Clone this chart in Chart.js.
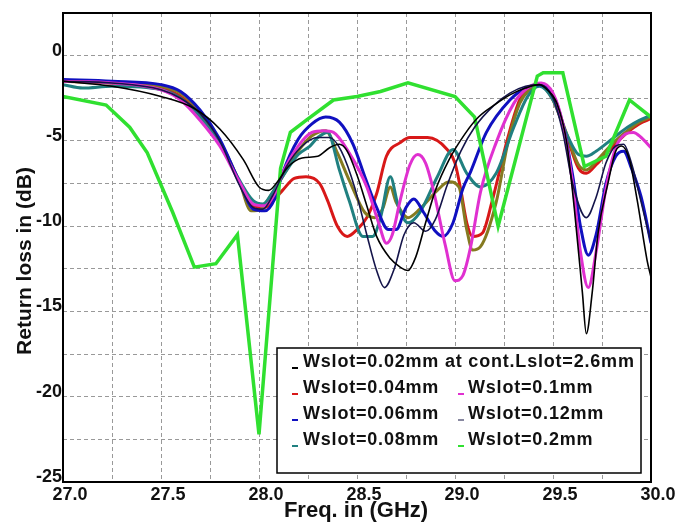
<!DOCTYPE html>
<html lang="en">
<head>
    <meta charset="UTF-8">
    <title>Return loss vs Wslot</title>
    <script src="https://cdn.jsdelivr.net/npm/chart.js"></script>
    <style>
        body { margin: 0; background: #fff; }
    </style>
</head>
<body>
    <canvas id="rlChart" width="678" height="524"></canvas>

    <script>
        // Frequencies (GHz) and return loss (dB), one pair per curve
        const freqW002 = [27.0, 27.25, 27.5, 27.67, 27.8, 27.92, 28.0, 28.05, 28.1, 28.15, 28.22, 28.3, 28.36, 28.41, 28.45, 28.5, 28.55, 28.6, 28.67, 28.72, 28.76, 28.8, 28.85, 28.9, 28.97, 29.05, 29.12, 29.2, 29.28, 29.36, 29.43, 29.47, 29.52, 29.57, 29.61, 29.65, 29.67, 29.7, 29.73, 29.78, 29.82, 29.85, 29.89, 29.93, 29.98, 30.0];
        const rlW002   = [-1.5, -1.8, -2.4, -3.1, -4.3, -6.1, -7.7, -7.9, -7.3, -6.5, -6.0, -5.9, -5.4, -5.2, -5.6, -7.0, -8.8, -10.6, -11.9, -12.4, -12.6, -11.8, -9.8, -7.9, -6.1, -4.6, -3.6, -2.9, -2.3, -1.9, -1.7, -2.0, -2.8, -5.1, -9.1, -13.9, -16.3, -13.9, -10.4, -7.5, -5.6, -5.3, -6.1, -8.5, -12.0, -13.0];

        const freqNavy = [27.0, 27.25, 27.5, 27.6, 27.7, 27.8, 27.9, 27.97, 28.02, 28.07, 28.14, 28.22, 28.3, 28.36, 28.42, 28.49, 28.55, 28.6, 28.64, 28.69, 28.74, 28.79, 28.85, 28.9, 28.96, 29.03, 29.1, 29.2, 29.28, 29.36, 29.43, 29.5, 29.55, 29.6, 29.67, 29.72, 29.77, 29.82, 29.86, 29.9, 29.95, 30.0];
        const rlNavy   = [-1.5, -1.6, -2.0, -2.5, -3.4, -5.0, -7.6, -8.9, -9.0, -8.2, -6.5, -5.3, -4.8, -4.8, -5.6, -7.8, -10.5, -12.6, -13.6, -12.5, -10.5, -9.8, -10.3, -9.6, -7.6, -5.6, -4.2, -2.9, -2.2, -1.8, -1.7, -2.5, -4.5, -7.5, -9.5, -8.3, -6.3, -5.3, -5.2, -6.3, -8.6, -11.0];

        const freqW006 = [27.0, 27.25, 27.5, 27.6, 27.7, 27.8, 27.9, 27.97, 28.03, 28.08, 28.12, 28.2, 28.27, 28.34, 28.41, 28.48, 28.54, 28.6, 28.66, 28.7, 28.75, 28.79, 28.84, 28.9, 28.94, 28.99, 29.04, 29.08, 29.16, 29.28, 29.36, 29.43, 29.5, 29.55, 29.6, 29.64, 29.68, 29.72, 29.77, 29.82, 29.86, 29.9, 29.95, 30.0];
        const rlW006   = [-1.4, -1.5, -1.7, -2.1, -3.2, -4.9, -7.4, -9.0, -9.1, -8.4, -6.9, -4.9, -4.0, -3.6, -3.9, -5.2, -7.1, -8.9, -10.2, -10.2, -8.9, -8.4, -9.2, -10.3, -10.6, -9.8, -7.8, -6.8, -4.5, -2.6, -1.9, -1.7, -2.3, -4.0, -7.0, -10.0, -11.7, -10.5, -7.5, -5.9, -5.6, -6.6, -8.3, -11.0];

        const freqW004 = [27.0, 27.25, 27.5, 27.6, 27.7, 27.8, 27.9, 27.97, 28.03, 28.08, 28.12, 28.18, 28.24, 28.31, 28.35, 28.4, 28.45, 28.5, 28.55, 28.6, 28.65, 28.72, 28.77, 28.86, 28.96, 29.0, 29.03, 29.06, 29.09, 29.14, 29.19, 29.27, 29.33, 29.38, 29.43, 29.5, 29.57, 29.63, 29.67, 29.72, 29.8, 29.88, 29.94, 30.0];
        const rlW004   = [-1.5, -1.6, -1.9, -2.4, -3.5, -5.1, -7.4, -8.8, -8.9, -8.4, -7.9, -7.2, -7.1, -7.5, -8.5, -10.0, -10.6, -10.2, -9.5, -8.1, -5.9, -5.1, -4.8, -4.8, -5.5, -6.3, -7.9, -9.8, -10.6, -10.4, -8.5, -4.8, -2.6, -1.9, -1.7, -2.6, -4.7, -6.6, -6.9, -6.4, -5.4, -4.5, -4.0, -3.7];

        const freqW01 = [27.0, 27.25, 27.5, 27.6, 27.7, 27.8, 27.9, 27.97, 28.03, 28.08, 28.12, 28.2, 28.27, 28.33, 28.38, 28.46, 28.55, 28.61, 28.65, 28.68, 28.72, 28.77, 28.81, 28.85, 28.89, 28.95, 29.0, 29.04, 29.08, 29.13, 29.21, 29.3, 29.37, 29.44, 29.5, 29.55, 29.6, 29.64, 29.68, 29.72, 29.77, 29.82, 29.87, 29.91, 29.95, 30.0];
        const rlW01   = [-1.5, -1.6, -2.0, -2.6, -3.8, -5.3, -7.4, -8.7, -8.8, -8.1, -6.9, -5.3, -4.5, -4.4, -4.5, -5.7, -7.7, -9.8, -11.0, -10.5, -8.5, -6.4, -5.8, -6.3, -7.9, -11.1, -13.2, -12.9, -11.2, -8.0, -5.1, -2.8, -1.9, -1.6, -2.2, -4.0, -7.5, -11.5, -13.6, -11.5, -7.8, -5.4, -4.6, -4.5, -4.8, -5.4];

        const freqW008 = [27.0, 27.1, 27.25, 27.5, 27.6, 27.7, 27.8, 27.9, 27.97, 28.02, 28.07, 28.12, 28.2, 28.26, 28.3, 28.35, 28.41, 28.46, 28.53, 28.58, 28.62, 28.67, 28.71, 28.76, 28.82, 28.91, 28.99, 29.06, 29.13, 29.21, 29.3, 29.37, 29.43, 29.5, 29.57, 29.63, 29.67, 29.72, 29.8, 29.88, 29.94, 30.0];
        const rlW008   = [-1.7, -1.9, -1.8, -2.0, -2.5, -3.6, -5.2, -7.3, -8.5, -8.7, -8.0, -7.1, -5.8, -5.3, -4.8, -4.5, -6.7, -8.5, -10.6, -10.6, -9.5, -7.1, -8.8, -9.8, -9.2, -7.1, -5.5, -6.9, -7.7, -6.9, -4.2, -2.4, -1.8, -2.6, -4.6, -5.8, -5.9, -5.6, -4.9, -4.2, -3.8, -3.5];

        const freqOlive = [27.0, 27.25, 27.5, 27.6, 27.7, 27.8, 27.9, 27.96, 28.01, 28.06, 28.12, 28.2, 28.27, 28.34, 28.4, 28.46, 28.54, 28.59, 28.63, 28.67, 28.7, 28.76, 28.82, 28.91, 28.97, 29.02, 29.06, 29.09, 29.13, 29.21, 29.27, 29.33, 29.38, 29.43, 29.5, 29.57, 29.63, 29.67, 29.72, 29.8, 29.88, 29.94, 30.0];
        const rlOlive   = [-1.5, -1.6, -1.8, -2.2, -3.3, -5.0, -7.4, -9.1, -9.0, -8.2, -7.1, -5.6, -4.7, -4.4, -5.7, -7.3, -9.2, -9.5, -9.0, -7.7, -8.6, -9.5, -9.0, -7.9, -7.4, -7.7, -10.2, -11.4, -11.2, -8.6, -5.1, -2.8, -2.0, -1.7, -2.5, -4.6, -6.4, -6.7, -6.2, -5.2, -4.4, -3.9, -3.6];

        const freqW02 = [27.0, 27.22, 27.34, 27.43, 27.56, 27.67, 27.78, 27.89, 28.0, 28.11, 28.16, 28.24, 28.38, 28.5, 28.62, 28.76, 29.0, 29.1, 29.22, 29.42, 29.45, 29.55, 29.66, 29.77, 29.89, 30.0];
        const rlW02   = [-2.4, -2.9, -4.2, -5.7, -9.2, -12.4, -12.2, -10.5, -22.2, -6.6, -4.5, -3.8, -2.6, -2.4, -2.1, -1.6, -2.4, -3.6, -10.0, -1.2, -1.0, -1.0, -6.5, -5.9, -2.6, -3.6];

        // Tick values and legend text
        const xTickStep = 0.25;
        const yTickStep = 2.5;
        const legendRows = [
            ['Wslot=0.02mm at cont.Lslot=2.6mm', '#000000', null, null],
            ['Wslot=0.04mm', '#d81818', 'Wslot=0.1mm', '#e030d0'],
            ['Wslot=0.06mm', '#1010c0', 'Wslot=0.12mm', '#8888a0'],
            ['Wslot=0.08mm', '#208080', 'Wslot=0.2mm', '#30e030']
        ];

        const FONT = 'Arial, "Liberation Sans", sans-serif';

        function pts(f, r) {
            return f.map((x, i) => ({ x: x, y: r[i] }));
        }

        function line(label, f, r, color, width, straight) {
            return {
                label: label,
                data: pts(f, r),
                borderColor: color,
                borderWidth: width,
                pointRadius: 0,
                fill: false,
                tension: straight ? 0 : 0.4,
                cubicInterpolationMode: straight ? 'default' : 'monotone'
            };
        }

        // Frame, axis titles and the boxed legend
        const decor = {
            id: 'decor',
            afterDraw(chart) {
                const ctx = chart.ctx;
                const a = chart.chartArea;
                ctx.save();
                ctx.strokeStyle = '#000';
                ctx.lineWidth = 2;
                ctx.strokeRect(a.left, a.top, a.right - a.left, a.bottom - a.top);

                ctx.fillStyle = '#111';
                ctx.font = 'bold 22px ' + FONT;
                ctx.textAlign = 'center';
                ctx.textBaseline = 'middle';
                ctx.fillText('Freq. in (GHz)', 356, 511);

                ctx.save();
                ctx.translate(25, 261);
                ctx.rotate(-Math.PI / 2);
                ctx.font = 'bold 21px ' + FONT;
                ctx.fillText('Return loss in (dB)', 0, 0);
                ctx.restore();

                // legend box
                ctx.fillStyle = '#fff';
                ctx.fillRect(277, 348, 364, 125);
                ctx.lineWidth = 1.5;
                ctx.strokeRect(277, 348, 364, 125);
                ctx.font = 'bold 18px ' + FONT;
                ctx.letterSpacing = '0.8px';
                ctx.textAlign = 'left';
                ctx.textBaseline = 'middle';
                legendRows.forEach((row, i) => {
                    const y = 362 + i * 26;
                    ctx.fillStyle = row[1];
                    ctx.fillRect(292, y + 5, 6, 2);
                    ctx.fillStyle = '#111';
                    ctx.fillText(row[0], 303, y);
                    if (row[2]) {
                        ctx.fillStyle = row[3];
                        ctx.fillRect(458, y + 5, 6, 2);
                        ctx.fillStyle = '#111';
                        ctx.fillText(row[2], 468, y);
                    }
                });
                ctx.restore();
            }
        };

        const ctx = document.getElementById('rlChart').getContext('2d');
        new Chart(ctx, {
            type: 'line',
            data: {
                datasets: [
                    line('Wslot=0.02mm', freqW002, rlW002, '#000000', 1.6),
                    line('navy', freqNavy, rlNavy, '#14144a', 1.6),
                    line('Wslot=0.2mm', freqW02, rlW02, '#30e030', 3.5, true),
                    line('Wslot=0.1mm', freqW01, rlW01, '#e030d0', 3),
                    line('Wslot=0.06mm', freqW006, rlW006, '#1010c0', 3),
                    line('Wslot=0.08mm', freqW008, rlW008, '#208080', 3),
                    line('olive', freqOlive, rlOlive, '#857a20', 3),
                    line('Wslot=0.04mm', freqW004, rlW004, '#d81818', 3)
                ]
            },
            options: {
                responsive: false,
                animation: false,
                layout: { padding: { top: 13, right: 27, left: 0, bottom: 0 } },
                plugins: {
                    legend: { display: false },
                    tooltip: { enabled: false }
                },
                scales: {
                    x: {
                        type: 'linear',
                        min: 27,
                        max: 30,
                        afterFit: s => { s.height = 42; },
                        grid: { color: '#999', lineWidth: 1, drawTicks: false },
                        border: { display: false, dash: [4, 3] },
                        ticks: {
                            stepSize: xTickStep,
                            autoSkip: false,
                            maxRotation: 0,
                            padding: 2,
                            labelOffset: 7,
                            color: '#111',
                            font: { family: FONT, size: 18, weight: 'bold' },
                            callback: v => Math.abs(v * 2 - Math.round(v * 2)) < 1e-6 ? v.toFixed(1) : ''
                        }
                    },
                    y: {
                        min: -25,
                        max: 2.5,
                        afterFit: s => { s.width = 63; },
                        grid: { color: '#999', lineWidth: 1, drawTicks: false },
                        border: { display: false, dash: [4, 3] },
                        ticks: {
                            stepSize: yTickStep,
                            autoSkip: false,
                            padding: 1,
                            labelOffset: -5,
                            color: '#111',
                            font: { family: FONT, size: 18, weight: 'bold' },
                            callback: v => Math.abs(v % 5) < 1e-6 ? String(v) : ''
                        }
                    }
                }
            },
            plugins: [decor]
        });
    </script>
</body>
</html>
